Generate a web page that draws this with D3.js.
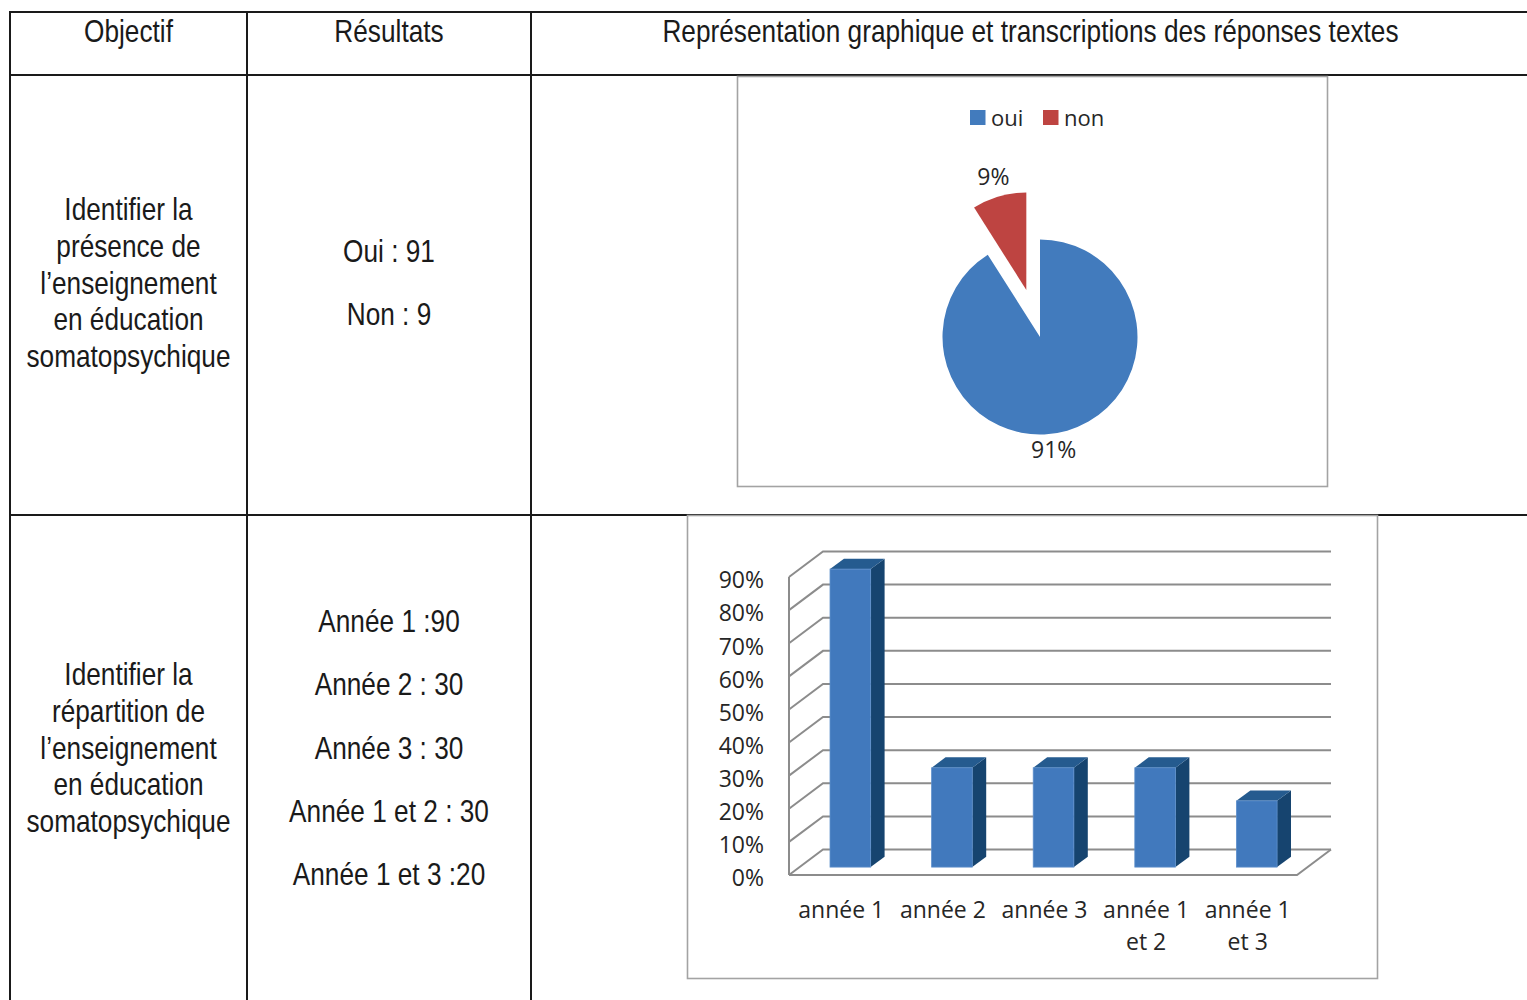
<!DOCTYPE html>
<html><head><meta charset="utf-8">
<script src="https://cdn.jsdelivr.net/npm/d3@7/dist/d3.min.js"></script>
<style>html,body{margin:0;padding:0;background:#fff;}svg{display:block;}</style>
</head><body>
<svg id="c" width="1527" height="1000"></svg>
<script>
// ---------- data ----------
const headerLabels = ["Objectif", "Résultats", "Représentation graphique et transcriptions des réponses textes"];
const objective1 = ["Identifier la", "présence de", "l’enseignement", "en éducation", "somatopsychique"];
const results1 = ["Oui : 91", "Non : 9"];
const objective2 = ["Identifier la", "répartition de", "l’enseignement", "en éducation", "somatopsychique"];
const results2 = ["Année 1 :90", "Année 2 : 30", "Année 3 : 30", "Année 1 et 2 : 30", "Année 1 et 3 :20"];

const pieLabels = ["oui", "non"];
const pieValues = [91, 9];
const pieColors = ["#427bbd", "#be4441"];

const barCategories = ["année 1", "année 2", "année 3", "année 1|et 2", "année 1|et 3"];
const barValues = [90, 30, 30, 30, 20];
const yTicks = [0, 10, 20, 30, 40, 50, 60, 70, 80, 90];

// ---------- setup ----------
const svg = d3.select("#c");
const cv = document.createElement("canvas").getContext("2d");
function hasFont(f){ cv.font = '40px monospace'; const a = cv.measureText("somatopsychique Wm").width;
  cv.font = '40px "' + f + '", monospace'; return Math.abs(cv.measureText("somatopsychique Wm").width - a) > 0.5; }
const narrow = hasFont("Liberation Sans Narrow") ? "Liberation Sans Narrow" : (hasFont("Arial Narrow") ? "Arial Narrow" : null);
const TFONT = narrow ? `"${narrow}"` : '"Liberation Sans", Arial, sans-serif';
const TSCALE = narrow ? 1.05 : 0.86;
const TSIZE = 30.5;
const CFONT = '"Open Sans", "Noto Sans", sans-serif';

function tableText(x, y, str, size){
  const g = svg.append("g").attr("transform", `translate(${x},${y}) scale(${TSCALE},1)`);
  g.append("text").attr("text-anchor","middle").attr("font-family",TFONT)
    .attr("font-size", size || TSIZE).attr("fill","#1a1a1a").text(str);
}

// ---------- table ----------
const colX = [10, 247, 531, 1530];
const rowY = [12, 75, 515, 1010];
const tbl = svg.append("g").attr("stroke","#1a1a1a").attr("stroke-width",2);
rowY.slice(0,3).forEach(y => tbl.append("line").attr("x1",colX[0]-1).attr("x2",colX[3]).attr("y1",y).attr("y2",y));
colX.slice(0,3).forEach(x => tbl.append("line").attr("x1",x).attr("x2",x).attr("y1",rowY[0]-1).attr("y2",rowY[3]));

const colC = [(colX[0]+colX[1])/2, (colX[1]+colX[2])/2, (colX[2]+colX[3])/2];
headerLabels.forEach((t,i) => tableText(colC[i], 42, t));
objective1.forEach((t,i) => tableText(colC[0], 220 + i*36.8, t));
results1.forEach((t,i) => tableText(colC[1], 262 + i*63, t));
objective2.forEach((t,i) => tableText(colC[0], 685 + i*36.8, t));
results2.forEach((t,i) => tableText(colC[1], 632 + i*63.3, t));

// ---------- pie chart ----------
svg.append("rect").attr("x",737.5).attr("y",76.5).attr("width",590).attr("height",410)
  .attr("fill","#fff").attr("stroke","#a3a3a3").attr("stroke-width",1.6);

// legend
const leg = svg.append("g").attr("font-family",CFONT).attr("font-size",22).attr("fill","#262626");
const legX = [970, 1043];
pieLabels.forEach((l,i) => {
  leg.append("rect").attr("x",legX[i]).attr("y",110).attr("width",15.5).attr("height",15).attr("fill",pieColors[i]);
  leg.append("text").attr("x",legX[i]+21).attr("y",125.5).text(l);
});

const pcx = 1040, pcy = 337, pr = 97.5, explode = 49;
const pie = d3.pie().sort(null).startAngle(0).endAngle(2*Math.PI);
const arcs = pie(pieValues);
const arc = d3.arc().innerRadius(0).outerRadius(pr);
const total = d3.sum(pieValues);
const pg = svg.append("g").attr("transform",`translate(${pcx},${pcy})`);
arcs.forEach((a,i) => {
  const mid = (a.startAngle + a.endAngle)/2;
  const off = i === 1 ? explode : 0;
  const ox = Math.sin(mid)*off, oy = -Math.cos(mid)*off;
  pg.append("path").attr("d", arc(a)).attr("transform",`translate(${ox},${oy})`).attr("fill",pieColors[i]);
  const lr = i === 1 ? 118 : 117;
  let lx = ox + Math.sin(mid)*lr, ly = oy - Math.cos(mid)*lr;
  if (i === 0) { lx -= 19; }
  pg.append("text").attr("x",lx).attr("y",ly).attr("dy","0.36em").attr("text-anchor","middle")
    .attr("font-family",CFONT).attr("font-size",23).attr("fill","#262626")
    .text(Math.round(pieValues[i]/total*100) + "%");
});

// ---------- 3D bar chart ----------
svg.append("rect").attr("x",687.5).attr("y",515.5).attr("width",690).attr("height",463)
  .attr("fill","#fff").attr("stroke","#a3a3a3").attr("stroke-width",1.6);

const X0 = 789, X1 = 1297, DX = 34, DY = -25.5;
const x = d3.scaleBand().domain(barCategories).range([X0, X1]).paddingInner(0.6).paddingOuter(0.3);
const xc = d3.scaleBand().domain(barCategories).range([X0, X1]);
const y = d3.scaleLinear().domain([0, 90]).range([875, 577]);

const grid = svg.append("g").attr("stroke","#8c8c8c").attr("stroke-width",2).attr("fill","none");
yTicks.forEach(t => {
  grid.append("path").attr("d", `M${X0},${y(t)} L${X0+DX},${y(t)+DY} L${X1+DX},${y(t)+DY}`);
});
grid.append("line").attr("x1",X0).attr("x2",X0).attr("y1",y(0)).attr("y2",y(90));
grid.append("path").attr("d", `M${X0},${y(0)} L${X1},${y(0)} L${X1+DX},${y(0)+DY}`);

// y labels
const yl = svg.append("g").attr("font-family",CFONT).attr("font-size",23).attr("fill","#262626").attr("text-anchor","end");
yTicks.forEach(t => yl.append("text").attr("x",764).attr("y",y(t)+3).attr("dy","0.36em").text(t + "%"));

// bars
const d0 = 0.31, d1 = 0.72;
const bars = svg.append("g");
barCategories.forEach((c,i) => {
  const v = barValues[i];
  const bw = x.bandwidth();
  const fx = x(c) + d0*DX, fyT = y(v) + d0*DY, fyB = y(0) + d0*DY;
  const ddx = (d1-d0)*DX, ddy = (d1-d0)*DY;
  bars.append("polygon").attr("points", [[fx+bw,fyT],[fx+bw+ddx,fyT+ddy],[fx+bw+ddx,fyB+ddy],[fx+bw,fyB]].join(" "))
    .attr("fill","#16446f");
  bars.append("polygon").attr("points", [[fx,fyT],[fx+bw,fyT],[fx+bw+ddx,fyT+ddy],[fx+ddx,fyT+ddy]].join(" "))
    .attr("fill","#255b8f");
  bars.append("rect").attr("x",fx).attr("y",fyT).attr("width",bw).attr("height",fyB-fyT)
    .attr("fill","#4179bd").attr("stroke","#5d8fcb").attr("stroke-width",0.8);
});

// x labels
const xl = svg.append("g").attr("font-family",CFONT).attr("font-size",23).attr("fill","#262626").attr("text-anchor","middle");
barCategories.forEach(c => {
  const lines = c.split("|");
  const cx = xc(c) + xc.bandwidth()/2 + 1.5;
  lines.forEach((l,j) => xl.append("text").attr("x",cx).attr("y",918 + j*32).text(l));
});
</script>
</body></html>
